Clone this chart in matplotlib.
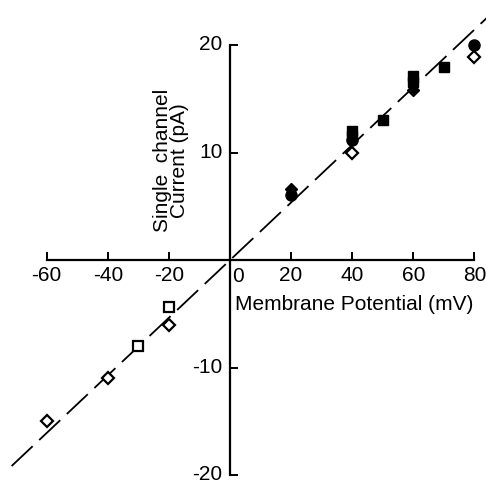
import matplotlib
matplotlib.use("Agg")
import matplotlib.pyplot as plt
import matplotlib.transforms as mtransforms
import numpy as np

# ---- data ----
open_square_x = [-20, -30]
open_square_y = [-4.4, -8.0]
open_diamond_x = [-20, -40, -60, 40, 80]
open_diamond_y = [-6.0, -11.0, -15.0, 10.0, 18.9]
filled_square_x = [40, 40, 50, 60, 60, 70]
filled_square_y = [12.0, 11.5, 13.0, 17.1, 16.6, 18.0]
filled_circle_x = [20, 40, 80]
filled_circle_y = [6.1, 11.2, 20.0]
filled_diamond_x = [20, 60]
filled_diamond_y = [6.6, 15.8]
fit_slope = 0.268
fit_x = [-71.5, 90]

xticks = [-60, -40, -20, 20, 40, 60, 80]
yticks = [-20, -10, 10, 20]

plt.rcParams['font.family'] = ['Liberation Sans', 'DejaVu Sans']

fig = plt.figure(figsize=(4.86, 4.83), dpi=100)
ax = fig.add_axes([0, 0, 1, 1])
ax.set_xlim(-75.3, 83.8)
ax.set_ylim(-20.74, 24.2)

# fitted line
fx = np.array(fit_x)
ax.plot(fx, fit_slope * fx, color='black', lw=1.3, linestyle=(0, (16, 5)), zorder=1)

ms = 7.5
mew = 1.6
ax.plot(open_square_x, open_square_y, 's', ms=7, mfc='white', mec='black', mew=mew, zorder=3)
ax.plot(open_diamond_x, open_diamond_y, 'D', ms=6.5, mfc='white', mec='black', mew=mew, zorder=3)
ax.plot(filled_square_x, filled_square_y, 's', ms=ms, mfc='black', mec='black', zorder=3)
ax.plot(filled_circle_x, filled_circle_y, 'o', ms=ms + 0.5, mfc='black', mec='black', zorder=3)
ax.plot(filled_diamond_x, filled_diamond_y, 'D', ms=6.5, mfc='black', mec='black', zorder=3)

# axes through the origin
for s in ['top', 'right']:
    ax.spines[s].set_visible(False)
ax.spines['left'].set_position(('data', 0))
ax.spines['bottom'].set_position(('data', 0))
ax.spines['left'].set_bounds(-20, 20)
ax.spines['bottom'].set_bounds(-60, 80)
ax.spines['left'].set_linewidth(1.6)
ax.spines['bottom'].set_linewidth(1.6)
ax.patch.set_visible(False)

ax.set_xticks(xticks)
ax.set_xticklabels([str(v) for v in xticks])
ax.set_yticks(yticks)
ax.set_yticklabels([str(v) for v in yticks])
ax.tick_params(axis='x', direction='in', length=6, width=1.4, labelsize=15, pad=4.5)
ax.tick_params(axis='y', direction='in', length=6, width=1.4, labelsize=15, pad=5.5)

# nudge y tick labels up slightly (as in the reference)
shift = mtransforms.ScaledTranslation(0, 2.5 / 100, fig.dpi_scale_trans)
for lbl in ax.get_yticklabels():
    lbl.set_transform(lbl.get_transform() + shift)

ax.text(0.65, -0.65, '0', fontsize=15, ha='left', va='top')

ax.text(1.6, -4.65, 'Membrane Potential (mV)', fontsize=15, ha='left', va='baseline')
ax.text(-19.3, 9.3, 'Single  channel\nCurrent (pA)', fontsize=15, rotation=90,
        ha='center', va='center', multialignment='center', linespacing=0.9)

fig.savefig('out.png', dpi=100)
